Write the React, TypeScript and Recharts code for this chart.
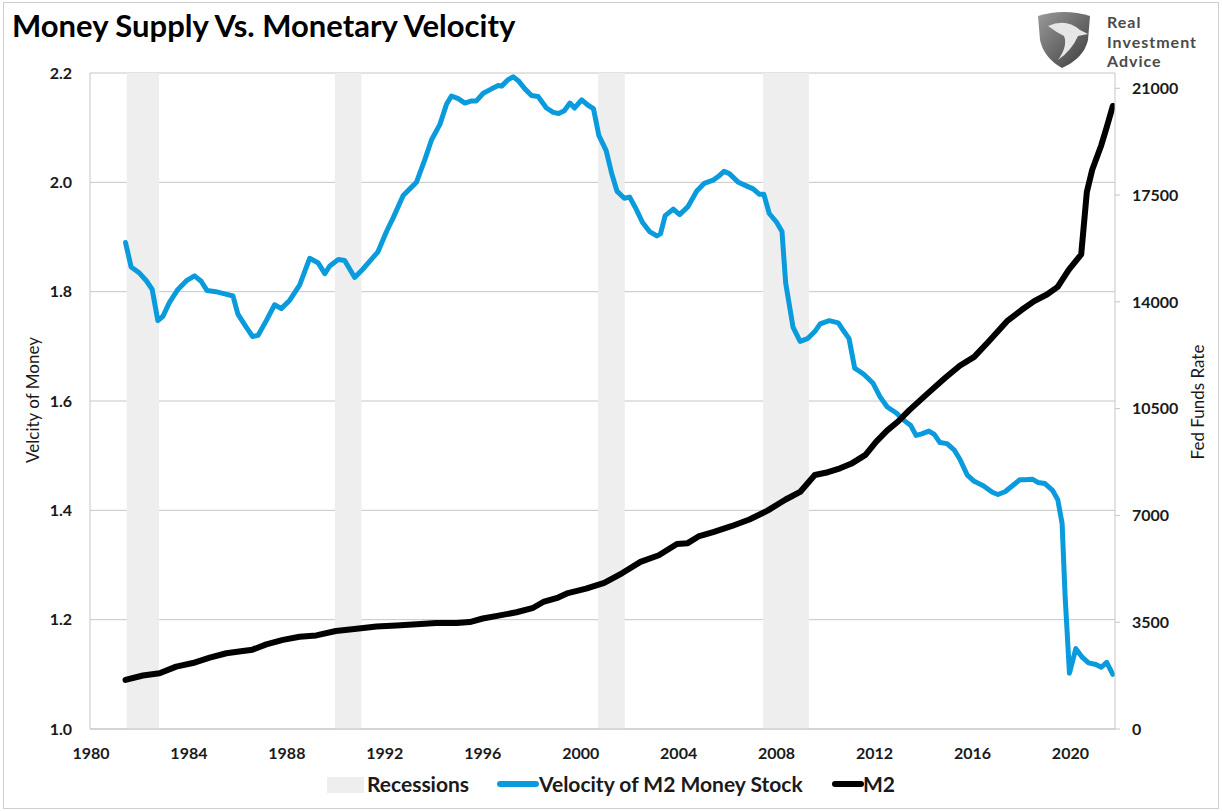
// Money supply vs monetary velocity: M2 velocity (left axis) against the M2 stock
// (right axis), with recession periods shaded behind both lines.
import {
  CartesianGrid,
  ComposedChart,
  Line,
  ReferenceArea,
  XAxis,
  YAxis,
} from "recharts";

const FONT = "Lato, 'Open Sans', sans-serif";
const BLUE = "#0a9bdc";
const GRID = "#c6c6c6";

// velocity of M2 money stock
const velocityYears = [
  1981.41, 1981.64, 1981.98, 1982.26, 1982.5, 1982.73, 1982.94, 1983.2, 1983.55, 1983.9,
  1984.23, 1984.5, 1984.74, 1985.1, 1985.46, 1985.8, 1986.0, 1986.34, 1986.6, 1986.82,
  1987.16, 1987.5, 1987.77, 1988.11, 1988.52, 1988.93, 1989.27, 1989.55, 1989.75, 1990.1,
  1990.36, 1990.77, 1991.1, 1991.45, 1991.72, 1992.07, 1992.34, 1992.75, 1993.02, 1993.29,
  1993.63, 1993.91, 1994.25, 1994.52, 1994.72, 1995.0, 1995.27, 1995.54, 1995.74, 1996.02,
  1996.36, 1996.63, 1996.77, 1997.04, 1997.24, 1997.45, 1997.72, 1997.99, 1998.26, 1998.6,
  1998.88, 1999.1, 1999.33, 1999.56, 1999.75, 2000.04, 2000.3, 2000.52, 2000.74, 2001.04,
  2001.26, 2001.48, 2001.78, 2002.0, 2002.22, 2002.52, 2002.81, 2003.11, 2003.26, 2003.45,
  2003.78, 2004.04, 2004.37, 2004.74, 2005.04, 2005.41, 2005.63, 2005.85, 2006.07, 2006.44,
  2006.74, 2007.04, 2007.3, 2007.48, 2007.7, 2008.0, 2008.22, 2008.37, 2008.67, 2008.96,
  2009.26, 2009.56, 2009.78, 2010.15, 2010.52, 2010.74, 2010.96, 2011.19, 2011.56, 2011.93,
  2012.22, 2012.52, 2012.89, 2013.19, 2013.48, 2013.7, 2013.93, 2014.22, 2014.44, 2014.67,
  2014.96, 2015.26, 2015.48, 2015.78, 2016.07, 2016.44, 2016.81, 2017.04, 2017.33, 2017.63,
  2017.93, 2018.15, 2018.44, 2018.67, 2018.96, 2019.26, 2019.48, 2019.66, 2019.78, 2019.96,
  2020.22, 2020.49, 2020.74, 2021.04, 2021.26, 2021.48, 2021.73,
];
const velocity = [
  1.89, 1.845, 1.834, 1.82, 1.804, 1.747, 1.755, 1.78, 1.804, 1.82,
  1.829, 1.819, 1.802, 1.8, 1.796, 1.792, 1.759, 1.735, 1.718, 1.72,
  1.747, 1.776, 1.769, 1.784, 1.812, 1.861, 1.853, 1.833, 1.847, 1.859,
  1.857, 1.826, 1.841, 1.859, 1.873, 1.91, 1.935, 1.976, 1.988, 2.0,
  2.041, 2.078, 2.106, 2.143, 2.158, 2.153, 2.145, 2.149, 2.149, 2.163,
  2.171, 2.177, 2.176, 2.188, 2.193, 2.186, 2.171, 2.159, 2.157, 2.136,
  2.128, 2.126, 2.131, 2.145, 2.136, 2.151, 2.141, 2.135, 2.086, 2.058,
  2.017, 1.984, 1.971, 1.973, 1.955, 1.927, 1.91, 1.902, 1.906, 1.939,
  1.951, 1.941, 1.955, 1.984, 1.998, 2.004, 2.011, 2.02, 2.016, 2.0,
  1.994, 1.988, 1.978, 1.978, 1.943, 1.927, 1.91, 1.816, 1.735, 1.709,
  1.714, 1.727, 1.741, 1.747, 1.743, 1.728, 1.714, 1.66, 1.649, 1.633,
  1.608, 1.589, 1.578, 1.565, 1.555, 1.537, 1.54, 1.545, 1.539, 1.524,
  1.522, 1.51, 1.494, 1.465, 1.453, 1.445, 1.433, 1.429, 1.434, 1.445,
  1.456, 1.456, 1.457, 1.451, 1.449, 1.437, 1.42, 1.376, 1.245, 1.102,
  1.147, 1.131, 1.121, 1.118, 1.113, 1.122, 1.1,
];

// M2 stock ($bn)
const m2Years = [
  1981.41, 1982.12, 1982.8, 1983.48, 1984.16, 1984.85, 1985.53, 1986.2, 1986.6, 1987.16,
  1987.84, 1988.52, 1989.2, 1990.0, 1990.85, 1991.66, 1992.48, 1993.3, 1994.1, 1994.93,
  1995.47, 1996.0, 1996.7, 1997.38, 1998.06, 1998.47, 1999.08, 1999.48, 2000.22, 2000.96,
  2001.7, 2002.44, 2003.19, 2003.93, 2004.37, 2004.81, 2005.41, 2006.15, 2006.89, 2007.63,
  2008.37, 2008.96, 2009.56, 2010.0, 2010.59, 2011.04, 2011.63, 2012.07, 2012.52, 2012.96,
  2013.41, 2014.15, 2014.89, 2015.48, 2016.07, 2016.67, 2017.41, 2018.0, 2018.52, 2019.04,
  2019.48, 2019.93, 2020.44, 2020.67, 2020.89, 2021.26, 2021.48, 2021.73,
];
const m2 = [
  1607, 1753, 1826, 2045, 2162, 2337, 2483, 2556, 2600, 2775,
  2921, 3023, 3067, 3213, 3286, 3359, 3389, 3432, 3476, 3476,
  3505, 3622, 3725, 3827, 3973, 4163, 4309, 4455, 4601, 4791,
  5112, 5477, 5696, 6061, 6091, 6310, 6456, 6646, 6865, 7157,
  7522, 7770, 8325, 8398, 8545, 8691, 8983, 9421, 9786, 10078,
  10443, 10984, 11510, 11904, 12196, 12707, 13365, 13730, 14022, 14241,
  14490, 15044, 15555, 17600, 18331, 19134, 19718, 20420,
];

const recessionStarts = [1981.46, 1989.96, 2000.71, 2007.45];
const recessionEnds = [1982.78, 1991.05, 2001.8, 2009.32];

const yearTicks = [1980, 1984, 1988, 1992, 1996, 2000, 2004, 2008, 2012, 2016, 2020];
const velocityTicks = [1.0, 1.2, 1.4, 1.6, 1.8, 2.0, 2.2];
const m2Ticks = [0, 3500, 7000, 10500, 14000, 17500, 21000];
const logoLines = ["Real", "Investment", "Advice"];

const velocityData = velocityYears.map((year, i) => ({ year, v: velocity[i] }));
const m2Data = m2Years.map((year, i) => ({ year, m2: m2[i] }));

const tick = { fontFamily: FONT, fontSize: 16, fontWeight: 700, fill: "#1a1a1a" };

function Logo() {
  return (
    <div style={{ position: "absolute", left: 1034, top: 10 }}>
      <svg width={60} height={60} viewBox="0 0 60 60" style={{ position: "absolute", left: 0, top: 0 }}>
        <defs>
          <linearGradient id="sh" x1="0" y1="0" x2="1" y2="1">
            <stop offset="0" stopColor="#9a9a9a" />
            <stop offset="1" stopColor="#3c3c3c" />
          </linearGradient>
        </defs>
        <path d="M4 6 Q30 -2 56 6 L54 30 Q50 48 28 58 Q10 48 6 30 Z" fill="url(#sh)" />
        <path d="M14 16 Q32 8 46 20 L54 24 L44 26 Q38 40 24 50 Q34 36 30 26 Q22 22 14 16 Z" fill="#e6e6e6" />
      </svg>
      {logoLines.map((t, i) => (
        <div
          key={t}
          style={{
            position: "absolute",
            left: 73,
            top: 2 + i * 19.5,
            height: 19,
            fontFamily: FONT,
            fontWeight: 700,
            fontSize: 16,
            letterSpacing: 1,
            lineHeight: "19px",
            color: "#4a4a4a",
            whiteSpace: "nowrap",
          }}
        >
          {t}
        </div>
      ))}
    </div>
  );
}

function LegendRow() {
  const text = {
    position: "absolute" as const,
    top: 773,
    fontFamily: FONT,
    fontWeight: 700,
    fontSize: 21,
    lineHeight: "22px",
    color: "#1a1a1a",
    whiteSpace: "nowrap" as const,
  };
  return (
    <>
      <div style={{ position: "absolute", left: 327, top: 777, width: 37, height: 16, background: "#eeeeee" }} />
      <div style={{ ...text, left: 367 }}>Recessions</div>
      <div style={{ position: "absolute", left: 497, top: 781, width: 42, height: 6, borderRadius: 3, background: BLUE }} />
      <div style={{ ...text, left: 539 }}>Velocity of M2 Money Stock</div>
      <div style={{ position: "absolute", left: 832, top: 781, width: 32, height: 6, borderRadius: 3, background: "#000" }} />
      <div style={{ ...text, left: 863 }}>M2</div>
    </>
  );
}

export default function App() {
  return (
    <div
      style={{
        position: "absolute",
        left: 0,
        top: 0,
        width: 1222,
        height: 811,
        background: "#fff",
        fontFamily: FONT,
        overflow: "hidden",
      }}
    >
      <div
        style={{
          position: "absolute",
          left: 3,
          top: 2,
          width: 1214,
          height: 805,
          border: "1px solid #cfcfcf",
        }}
      />
      <div
        style={{
          position: "absolute",
          left: 12,
          top: 6,
          fontFamily: FONT,
          fontWeight: 700,
          fontSize: 31,
          color: "#000",
          whiteSpace: "nowrap",
        }}
      >
        Money Supply Vs. Monetary Velocity
      </div>
      <Logo />

      <div style={{ position: "absolute", left: 0, top: 0 }}>
        <ComposedChart width={1222} height={811} margin={{ top: 73, right: 0, bottom: 52, left: 0 }}>
          <CartesianGrid yAxisId="left" vertical={false} stroke={GRID} />
          <XAxis
            type="number"
            dataKey="year"
            domain={[1979.96, 2021.82]}
            ticks={yearTicks}
            allowDataOverflow
            axisLine={{ stroke: GRID }}
            tickLine={false}
            tickSize={6}
            tickMargin={13}
            height={30}
            tick={tick}
          />
          <YAxis
            yAxisId="left"
            domain={[1.0, 2.2]}
            ticks={velocityTicks}
            tickFormatter={(v: number) => v.toFixed(1)}
            axisLine={{ stroke: GRID }}
            tickLine={false}
            tickSize={6}
            tickMargin={12}
            width={90}
            tick={tick}
          />
          <YAxis
            yAxisId="right"
            orientation="right"
            domain={[0, 21500]}
            ticks={m2Ticks}
            allowDataOverflow
            axisLine={{ stroke: GRID }}
            tickLine={{ stroke: GRID }}
            tickSize={5}
            tickMargin={12}
            width={107}
            tick={tick}
          />
          {recessionStarts.map((s, i) => (
            <ReferenceArea
              key={s}
              yAxisId="left"
              x1={s}
              x2={recessionEnds[i]}
              fill="#eeeeee"
              fillOpacity={1}
              stroke="none"
            />
          ))}
          <Line
            yAxisId="left"
            data={velocityData}
            dataKey="v"
            type="linear"
            stroke={BLUE}
            strokeWidth={5}
            strokeLinejoin="round"
            strokeLinecap="round"
            dot={false}
            isAnimationActive={false}
          />
          <Line
            yAxisId="right"
            data={m2Data}
            dataKey="m2"
            type="linear"
            stroke="#000"
            strokeWidth={6}
            strokeLinejoin="round"
            strokeLinecap="round"
            dot={false}
            isAnimationActive={false}
          />
        </ComposedChart>
      </div>

      <div
        style={{
          position: "absolute",
          left: 32,
          top: 400,
          transform: "translate(-50%, -50%) rotate(-90deg)",
          fontFamily: FONT,
          fontSize: 17,
          color: "#1a1a1a",
          whiteSpace: "nowrap",
        }}
      >
        Velcity of Money
      </div>
      <div
        style={{
          position: "absolute",
          left: 1197,
          top: 402,
          transform: "translate(-50%, -50%) rotate(-90deg)",
          fontFamily: FONT,
          fontSize: 17,
          color: "#1a1a1a",
          whiteSpace: "nowrap",
        }}
      >
        Fed Funds Rate
      </div>
      <LegendRow />
    </div>
  );
}
